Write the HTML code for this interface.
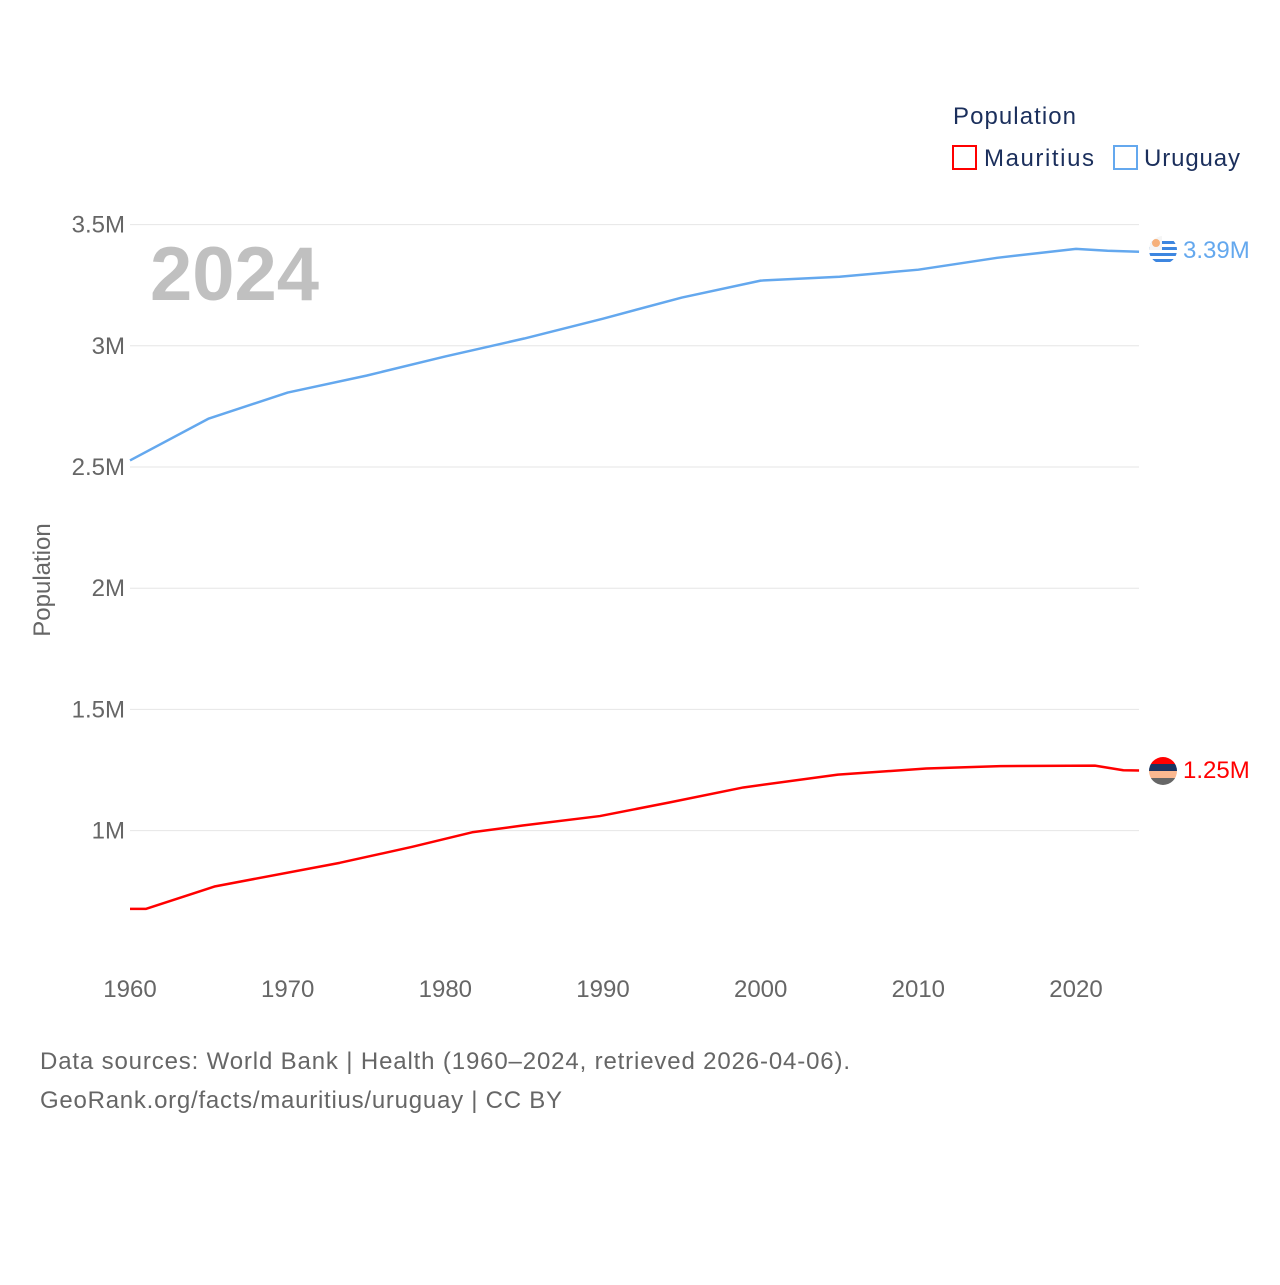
<!DOCTYPE html>
<html><head><meta charset="utf-8"><style>
body{margin:0;background:#fff;font-family:"Liberation Sans",sans-serif}
svg text{font-family:"Liberation Sans",sans-serif}
</style></head><body>
<svg width="1280" height="1280" xmlns="http://www.w3.org/2000/svg">
<g id="grid"></g>
<g id="yt"></g>
<g id="xt"></g>
<text x="150" y="300" font-size="76" font-weight="bold" fill="#c0c0c0">2024</text>
<text transform="translate(50,580) rotate(-90)" text-anchor="middle" font-size="24" fill="#666">Population</text>
<g id="lines"></g>
<g>
<text x="953" y="124" font-size="24" fill="#1b2f5c" textLength="123">Population</text>
<rect x="953" y="146" width="23" height="23" fill="none" stroke="#f00" stroke-width="2"/>
<text x="984" y="166" font-size="24" fill="#1b2f5c" textLength="110">Mauritius</text>
<rect x="1114" y="146" width="23" height="23" fill="none" stroke="#64a8ee" stroke-width="2"/>
<text x="1144" y="166" font-size="24" fill="#1b2f5c" textLength="96">Uruguay</text>
</g>
<defs>
<clipPath id="cu"><circle cx="1163" cy="250" r="14"/></clipPath>
<clipPath id="cm"><circle cx="1163" cy="771" r="14"/></clipPath>
</defs>
<g clip-path="url(#cu)">
<rect x="1149" y="236" width="28" height="28" fill="#ffffff"/>
<rect x="1149" y="241" width="28" height="3" fill="#3d86e0"/>
<rect x="1149" y="247" width="28" height="3" fill="#3d86e0"/>
<rect x="1149" y="253" width="28" height="3" fill="#3d86e0"/>
<rect x="1149" y="259" width="28" height="3" fill="#3d86e0"/>
<rect x="1149" y="236" width="13" height="14" fill="#f5f5f5"/>
<circle cx="1156" cy="243" r="4" fill="#f6b07a"/>
</g>
<g clip-path="url(#cm)">
<rect x="1149" y="757" width="28" height="7" fill="#f00"/>
<rect x="1149" y="764" width="28" height="7" fill="#1b3360"/>
<rect x="1149" y="771" width="28" height="7" fill="#fbb890"/>
<rect x="1149" y="778" width="28" height="7" fill="#666"/>
</g>
<text x="1183" y="258" font-size="24" fill="#64a8ee">3.39M</text>
<text x="1183" y="778" font-size="24" fill="#f00">1.25M</text>
<text x="40" y="1069" font-size="24" fill="#666" textLength="810">Data sources: World Bank | Health (1960–2024, retrieved 2026-04-06).</text>
<text x="40" y="1108" font-size="24" fill="#666" textLength="522">GeoRank.org/facts/mauritius/uruguay | CC BY</text>
</svg>
<script>
const yTicks=[1,1.5,2,2.5,3,3.5];
const yTickLabels=["1M","1.5M","2M","2.5M","3M","3.5M"];
const xTicks=[1960,1970,1980,1990,2000,2010,2020];
const uruguayYears=[1960,1965,1970,1975,1980,1985,1990,1995,2000,2005,2010,2015,2020,2022,2024];
const uruguayValues=[2.527,2.70,2.807,2.877,2.956,3.03,3.112,3.199,3.269,3.285,3.314,3.363,3.40,3.392,3.388];
const mauritiusYears=[1960,1961,1965.4,1973.3,1977.9,1981.7,1984.9,1989.8,1994.2,1998.9,2004.9,2010.5,2015.2,2021.2,2023,2024];
const mauritiusValues=[0.677,0.677,0.77,0.867,0.933,0.993,1.021,1.06,1.116,1.178,1.231,1.256,1.266,1.268,1.249,1.248];
const NS="http://www.w3.org/2000/svg";
const X=y=>130+(y-1960)*(1076-130)/60;
const Y=v=>1073-v*242.4;
const grid=document.getElementById('grid'),yt=document.getElementById('yt'),xt=document.getElementById('xt'),lines=document.getElementById('lines');
yTicks.forEach((v,i)=>{
 const l=document.createElementNS(NS,'line');
 l.setAttribute('x1',130);l.setAttribute('x2',1139);l.setAttribute('y1',Y(v));l.setAttribute('y2',Y(v));
 l.setAttribute('stroke','#e6e6e6');l.setAttribute('stroke-width','1');
 
 
 grid.appendChild(l);
 const t=document.createElementNS(NS,'text');
 t.setAttribute('x',125);t.setAttribute('y',Y(v)+8);t.setAttribute('text-anchor','end');
 t.setAttribute('font-size','24');t.setAttribute('fill','#666');t.textContent=yTickLabels[i];
 
 
 yt.appendChild(t);
});
xTicks.forEach(yr=>{
 const t=document.createElementNS(NS,'text');
 t.setAttribute('x',X(yr));t.setAttribute('y',997);t.setAttribute('text-anchor','middle');
 t.setAttribute('font-size','24');t.setAttribute('fill','#666');t.textContent=yr;
 
 
 xt.appendChild(t);
});
function draw(years,vals,color,name){
 const p=document.createElementNS(NS,'polyline');
 p.setAttribute('points',years.map((y,i)=>X(y)+','+Y(vals[i])).join(' '));
 p.setAttribute('fill','none');p.setAttribute('stroke',color);p.setAttribute('stroke-width','2.5');
 p.setAttribute('stroke-linejoin','round');
 
 
 lines.appendChild(p);
}
draw(uruguayYears,uruguayValues,'#64a8ee','uruguay-line');
draw(mauritiusYears,mauritiusValues,'#ff0000','mauritius-line');
</script>
</body></html>
